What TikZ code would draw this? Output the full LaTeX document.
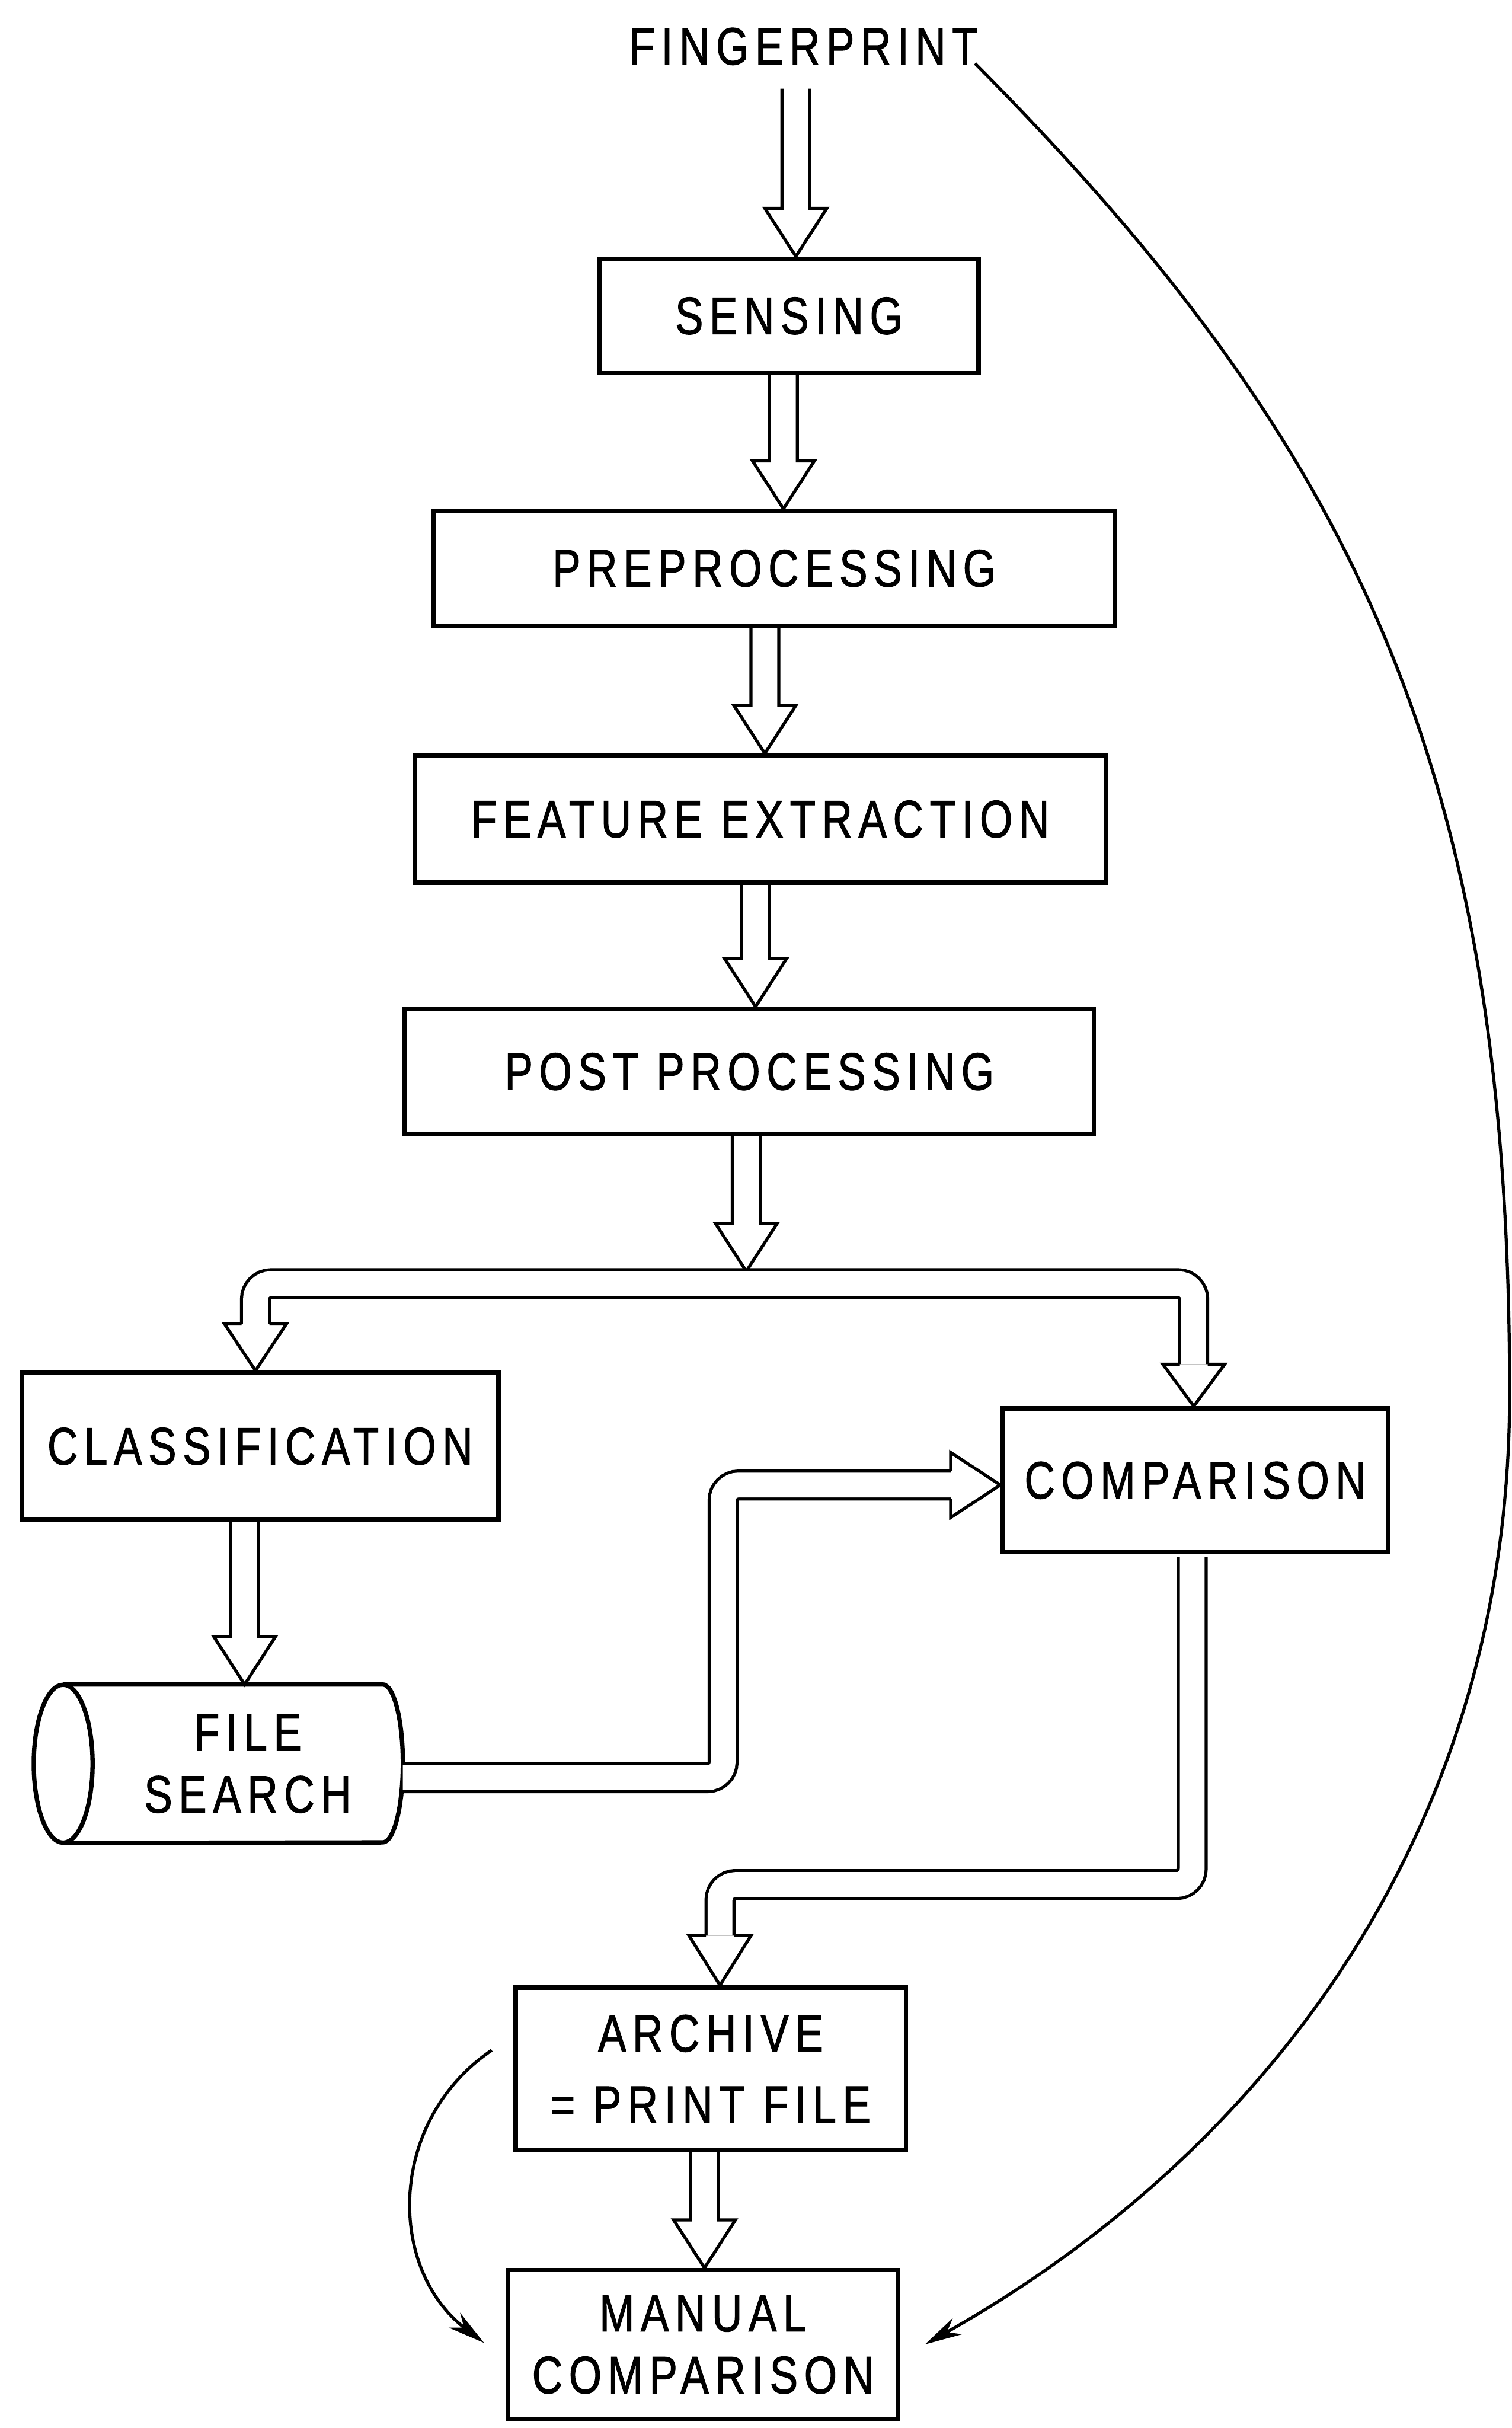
\documentclass[tikz,border=0pt]{standalone}
\usepackage{fontspec}
\setmainfont{Liberation Sans}[FakeStretch=0.8,LetterSpace=12,FakeBold=1.2]
\usetikzlibrary{calc,arrows.meta}
\tikzset{
  lbl/.style={font=\fontsize{34}{40}\selectfont, inner sep=0pt, align=center},
  box/.style={lbl, draw, line width=2.8pt},
  harrow/.style={line width=2pt, to path={let \p1=(\tikztostart), \p2=(\tikztotarget) in
     ({\x1-9pt},\y1) -- ({\x1-9pt},{\y2+31pt}) -- ({\x1-20pt},{\y2+31pt}) -- (\x1,\y2)
     -- ({\x1+20pt},{\y2+31pt}) -- ({\x1+9pt},{\y2+31pt}) -- ({\x1+9pt},\y1)}},
  hhead/.style={line width=2pt, to path={let \p1=(\tikztostart), \p2=(\tikztotarget) in
     ({\x1-9pt},\y1) -- ({\x1-20pt},\y1) -- (\x1,\y2) -- ({\x1+20pt},\y1) -- ({\x1+9pt},\y1)}},
  hheadr/.style={line width=2pt, to path={let \p1=(\tikztostart), \p2=(\tikztotarget) in
     (\x1,{\y1+9pt}) -- (\x1,{\y1+21pt}) -- (\x2,\y1) -- (\x1,{\y1-21pt}) -- (\x1,{\y1-9pt})}},
  dbl/.style={line width=2pt, double=white, double distance=16pt, rounded corners=10pt},
  thinarrow/.style={line width=2pt, -{Stealth[length=24pt,width=12pt]}},
}
\begin{document}
\begin{tikzpicture}[x=1pt,y=-1pt]
\useasboundingbox[fill=white] (0,0) rectangle (976.5,1568);
% nodes
\node[lbl] (fp) at (519,30) {FINGERPRINT};
\node[box, minimum width=245pt, minimum height=74pt] (sens) at (509.5,204) {SENSING};
\node[box, minimum width=440pt, minimum height=74pt] (prep) at (500,367) {PREPROCESSING};
\node[box, minimum width=446pt, minimum height=82pt] (feat) at (491,529) {FEATURE\hspace{12pt}EXTRACTION};
\node[box, minimum width=445pt, minimum height=81pt] (post) at (484,692) {POST PROCESSING};
\node[box, minimum width=308pt, minimum height=95pt] (class) at (168,934) {CLASSIFICATION};
\node[box, minimum width=249pt, minimum height=93pt] (comp) at (772,956) {COMPARISON};
\node[lbl, minimum width=200pt, minimum height=102pt] (fs) at (160,1139) {FILE\\SEARCH};
\node[box, minimum width=252pt, minimum height=105pt] (arch) at (459,1336) {ARCHIVE\\[6pt]= PRINT FILE};
\node[box, minimum width=252pt, minimum height=96pt] (man) at (454,1514) {MANUAL\\COMPARISON};
% cylinder outline of the file search store
\draw[line width=2.8pt] ([xshift=-19pt]fs.west) ellipse [x radius=19pt, y radius=51pt];
\draw[line width=2.8pt] ([xshift=-19pt]fs.north west) -- ([xshift=-13pt]fs.north east)
   arc[start angle=90, end angle=-90, x radius=13pt, y radius=51pt] -- ([xshift=-19pt]fs.south west);
% hollow arrows
\draw[harrow] ([shift={(-5pt,-15pt)}]fp.south) to (sens.north);
\draw[harrow] ([xshift=-3.5pt]sens.south) to (prep.north);
\draw[harrow] ([xshift=-6pt]prep.south) to (feat.north);
\draw[harrow] ([xshift=-3pt]feat.south) to (post.north);
\coordinate (sp) at (482,821);
\draw[harrow] ([xshift=-2pt]post.south) to (sp);
\coordinate (lb) at (165,855);
\coordinate (rb) at (771,881);
\draw[dbl] (lb) -- (165,829) -- (771,829) -- (rb);
\draw[hhead] (lb) to (class.north);
\draw[hhead] (rb) to (comp.north);
\draw[harrow] ([xshift=-10pt]class.south) to (fs.north);
\coordinate (cb) at (614,959);
\draw[dbl] ([yshift=-9pt]fs.east) -- (467,1148) -- (467,959) -- (cb);
\draw[hheadr] (cb) to (comp.west);
\coordinate (ab) at (465,1250);
\draw[dbl] ([shift={(-2pt,-1.4pt)}]comp.south) -- (770,1217) -- (465,1217) -- (ab);
\draw[hhead] (ab) to (arch.north);
\draw[harrow] ([xshift=-4pt]arch.south) to (man.north);
% thin curved arrows
\draw[thinarrow] ([shift={(-14pt,12pt)}]arch.west) .. controls (250,1370) and (250,1465) .. ([shift={(-14pt,1pt)}]man.west);
\coordinate (cq) at (975,900);
\draw[thinarrow] ([shift={(-2pt,-11pt)}]fp.east) .. controls (878,291) and (975,500) .. (cq)
   .. controls (975,1200) and (800,1400) .. ([xshift=16pt]man.east);
\end{tikzpicture}
\end{document}
